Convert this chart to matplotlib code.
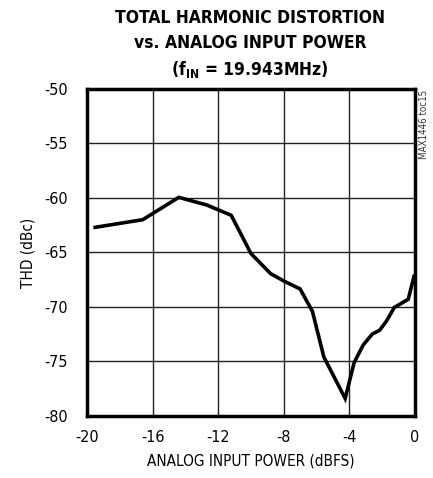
import matplotlib
matplotlib.use("Agg")
import matplotlib.pyplot as plt

# input power (dBFS) vs THD (dBc)
power = [-19.5, -16.6, -14.4, -12.7, -11.2, -10.0, -8.8, -7.9, -7.0, -6.25,
         -5.55, -4.25, -3.7, -3.15, -2.6, -2.15, -1.75, -1.25, -0.4, -0.05]
thd = [-62.7, -62.0, -59.95, -60.65, -61.6, -65.1, -66.95, -67.7, -68.35, -70.4,
       -74.6, -78.4, -75.1, -73.5, -72.5, -72.15, -71.35, -70.05, -69.3, -67.2]

xticks = [-20, -16, -12, -8, -4, 0]
yticks = [-50, -55, -60, -65, -70, -75, -80]

title_lines = ['TOTAL HARMONIC DISTORTION', 'vs. ANALOG INPUT POWER',
               '(f$_{IN}$ = 19.943MHz)']

plt.rcParams['font.family'] = ['DejaVu Sans']
plt.rcParams['font.stretch'] = 'condensed'
plt.rcParams['mathtext.fontset'] = 'custom'
plt.rcParams['mathtext.rm'] = 'DejaVu Sans:weight=bold:stretch=condensed'
plt.rcParams['mathtext.it'] = 'DejaVu Sans:weight=bold:stretch=condensed'
plt.rcParams['mathtext.bf'] = 'DejaVu Sans:weight=bold:stretch=condensed'

fig = plt.figure(figsize=(4.33, 4.78), dpi=100)
ax = fig.add_axes([0.201, 0.130, 0.757, 0.684])

ax.plot(power, thd, color='black', lw=2.6, solid_joinstyle='miter')

ax.set_xlim(-20, 0)
ax.set_ylim(-80, -50)
ax.set_xticks(xticks)
ax.set_yticks(yticks)
ax.set_xticklabels([str(v) for v in xticks])
ax.set_yticklabels([str(v) for v in yticks])
ax.tick_params(length=0, labelsize=11.5)
ax.tick_params(axis='x', pad=10)
ax.tick_params(axis='y', pad=14)
ax.grid(True, color='#222222', lw=1.0)
for s in ax.spines.values():
    s.set_linewidth(2.5)

ax.set_xlabel('ANALOG INPUT POWER (dBFS)', fontsize=11, labelpad=6)
ax.set_ylabel('THD (dBc)', fontsize=11, labelpad=6)

for yy, line in zip([0.962, 0.909, 0.855], title_lines):
    fig.text(0.577, yy, line, ha='center', va='center', fontsize=12.5, fontweight='bold')
fig.text(0.979, 0.812, 'MAX1446 toc15', rotation=90, ha='center', va='top',
         fontsize=7, color='#333333')

fig.savefig('out.png', dpi=100)
